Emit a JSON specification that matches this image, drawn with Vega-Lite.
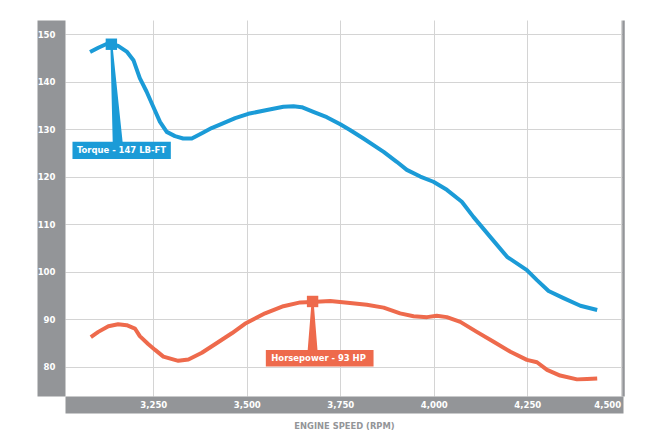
{
  "$schema": "https://vega.github.io/schema/vega-lite/v6.json",
  "width": 558,
  "height": 376,
  "autosize": "none",
  "padding": {"left": 65, "top": 20, "right": 37, "bottom": 42},
  "background": "white",
  "config": {
    "font": "Liberation Sans Narrow, DejaVu Sans Condensed, Roboto",
    "view": {"stroke": null},
    "axis": {
      "gridColor": "#d4d4d4",
      "gridWidth": 1,
      "ticks": false,
      "tickSize": 0,
      "labelFont": "Liberation Sans Narrow, DejaVu Sans Condensed, Roboto",
      "labelFontWeight": "bold",
      "labelFontSize": 9.5,
      "labelColor": "#ffffff",
      "domainColor": "#939598",
      "domainCap": "butt",
      "titleFont": "Liberation Sans Narrow, DejaVu Sans Condensed, Roboto"
    }
  },
  "datasets": {
    "curves": [
      {"series": "Torque", "rpm": 3081, "value": 146.2},
      {"series": "Torque", "rpm": 3103, "value": 147.1},
      {"series": "Torque", "rpm": 3125, "value": 147.9},
      {"series": "Torque", "rpm": 3138, "value": 147.9},
      {"series": "Torque", "rpm": 3156, "value": 147.5},
      {"series": "Torque", "rpm": 3179, "value": 146.3},
      {"series": "Torque", "rpm": 3197, "value": 144.5},
      {"series": "Torque", "rpm": 3214, "value": 140.7},
      {"series": "Torque", "rpm": 3232, "value": 137.9},
      {"series": "Torque", "rpm": 3250, "value": 134.7},
      {"series": "Torque", "rpm": 3268, "value": 131.5},
      {"series": "Torque", "rpm": 3286, "value": 129.4},
      {"series": "Torque", "rpm": 3308, "value": 128.5},
      {"series": "Torque", "rpm": 3330, "value": 128.0},
      {"series": "Torque", "rpm": 3353, "value": 128.0},
      {"series": "Torque", "rpm": 3380, "value": 129.1},
      {"series": "Torque", "rpm": 3406, "value": 130.2},
      {"series": "Torque", "rpm": 3433, "value": 131.1},
      {"series": "Torque", "rpm": 3469, "value": 132.3},
      {"series": "Torque", "rpm": 3504, "value": 133.2},
      {"series": "Torque", "rpm": 3554, "value": 134.0},
      {"series": "Torque", "rpm": 3598, "value": 134.7},
      {"series": "Torque", "rpm": 3625, "value": 134.8},
      {"series": "Torque", "rpm": 3647, "value": 134.6},
      {"series": "Torque", "rpm": 3678, "value": 133.6},
      {"series": "Torque", "rpm": 3714, "value": 132.5},
      {"series": "Torque", "rpm": 3750, "value": 131.0},
      {"series": "Torque", "rpm": 3776, "value": 129.8},
      {"series": "Torque", "rpm": 3812, "value": 128.0},
      {"series": "Torque", "rpm": 3866, "value": 125.2},
      {"series": "Torque", "rpm": 3901, "value": 123.1},
      {"series": "Torque", "rpm": 3928, "value": 121.4},
      {"series": "Torque", "rpm": 3964, "value": 120.0},
      {"series": "Torque", "rpm": 3999, "value": 118.9},
      {"series": "Torque", "rpm": 4035, "value": 117.2},
      {"series": "Torque", "rpm": 4075, "value": 114.7},
      {"series": "Torque", "rpm": 4106, "value": 111.5},
      {"series": "Torque", "rpm": 4151, "value": 107.3},
      {"series": "Torque", "rpm": 4196, "value": 103.1},
      {"series": "Torque", "rpm": 4249, "value": 100.3},
      {"series": "Torque", "rpm": 4276, "value": 98.2},
      {"series": "Torque", "rpm": 4307, "value": 95.9},
      {"series": "Torque", "rpm": 4347, "value": 94.4},
      {"series": "Torque", "rpm": 4392, "value": 92.8},
      {"series": "Torque", "rpm": 4437, "value": 91.9},
      {"series": "Horsepower", "rpm": 3083, "value": 86.2},
      {"series": "Horsepower", "rpm": 3103, "value": 87.3},
      {"series": "Horsepower", "rpm": 3130, "value": 88.5},
      {"series": "Horsepower", "rpm": 3156, "value": 88.9},
      {"series": "Horsepower", "rpm": 3179, "value": 88.7},
      {"series": "Horsepower", "rpm": 3201, "value": 88.0},
      {"series": "Horsepower", "rpm": 3214, "value": 86.4},
      {"series": "Horsepower", "rpm": 3237, "value": 84.7},
      {"series": "Horsepower", "rpm": 3255, "value": 83.5},
      {"series": "Horsepower", "rpm": 3277, "value": 82.1},
      {"series": "Horsepower", "rpm": 3317, "value": 81.2},
      {"series": "Horsepower", "rpm": 3344, "value": 81.5},
      {"series": "Horsepower", "rpm": 3380, "value": 82.9},
      {"series": "Horsepower", "rpm": 3415, "value": 84.7},
      {"series": "Horsepower", "rpm": 3460, "value": 87.0},
      {"series": "Horsepower", "rpm": 3495, "value": 89.0},
      {"series": "Horsepower", "rpm": 3549, "value": 91.2},
      {"series": "Horsepower", "rpm": 3598, "value": 92.7},
      {"series": "Horsepower", "rpm": 3643, "value": 93.5},
      {"series": "Horsepower", "rpm": 3674, "value": 93.6},
      {"series": "Horsepower", "rpm": 3723, "value": 93.8},
      {"series": "Horsepower", "rpm": 3776, "value": 93.4},
      {"series": "Horsepower", "rpm": 3821, "value": 93.0},
      {"series": "Horsepower", "rpm": 3866, "value": 92.4},
      {"series": "Horsepower", "rpm": 3910, "value": 91.2},
      {"series": "Horsepower", "rpm": 3946, "value": 90.6},
      {"series": "Horsepower", "rpm": 3982, "value": 90.4},
      {"series": "Horsepower", "rpm": 4008, "value": 90.7},
      {"series": "Horsepower", "rpm": 4035, "value": 90.4},
      {"series": "Horsepower", "rpm": 4071, "value": 89.4},
      {"series": "Horsepower", "rpm": 4115, "value": 87.3},
      {"series": "Horsepower", "rpm": 4160, "value": 85.2},
      {"series": "Horsepower", "rpm": 4205, "value": 83.1},
      {"series": "Horsepower", "rpm": 4249, "value": 81.4},
      {"series": "Horsepower", "rpm": 4276, "value": 80.9},
      {"series": "Horsepower", "rpm": 4303, "value": 79.3},
      {"series": "Horsepower", "rpm": 4338, "value": 78.1},
      {"series": "Horsepower", "rpm": 4383, "value": 77.3},
      {"series": "Horsepower", "rpm": 4410, "value": 77.4},
      {"series": "Horsepower", "rpm": 4437, "value": 77.5}
    ],
    "peaks": [
      {"series": "Torque", "rpm": 3138, "value": 147.85, "label": "Torque - 147 LB-FT", "rpm_start": 3034, "rpm_end": 3297, "value_top": 127.3, "value_bottom": 123.7, "label_rpm": 3165, "label_value": 125.5},
      {"series": "Horsepower", "rpm": 3676, "value": 93.7, "label": "Horsepower - 93 HP", "rpm_start": 3551, "rpm_end": 3839, "value_top": 83.5, "value_bottom": 80.0, "label_rpm": 3692, "label_value": 81.75}
    ],
    "pointers": [
      {"series": "Torque", "end": "marker", "rpm": 3138, "value": 147.85},
      {"series": "Torque", "end": "box", "rpm": 3155, "value": 127.0},
      {"series": "Horsepower", "end": "marker", "rpm": 3676, "value": 93.7},
      {"series": "Horsepower", "end": "box", "rpm": 3676, "value": 83.2}
    ]
  },
  "resolve": {"axis": {"x": "independent", "y": "independent"}},
  "layer": [
    {
      "data": {"name": "curves"},
      "mark": {"type": "line", "strokeWidth": 4, "strokeJoin": "round", "strokeCap": "butt"},
      "encoding": {
        "x": {
          "field": "rpm", "type": "quantitative", "title": "ENGINE SPEED (RPM)",
          "scale": {"domain": [3014, 4506], "nice": false, "zero": false},
          "axis": {
            "orient": "bottom",
            "values": [3250, 3500, 3750, 4000, 4250, 4500],
            "grid": true,
            "labels": false,
            "domain": true,
            "domainWidth": 17,
            "offset": 8.5,
            "titleFontSize": 9.3,
            "titleFontWeight": "bold",
            "titleColor": "#939598",
            "titleBaseline": "alphabetic",
            "titleY": 24,
            "zindex": 0
          }
        },
        "y": {
          "field": "value", "type": "quantitative", "title": null,
          "scale": {"domain": [73.8, 152.95], "nice": false, "zero": false},
          "axis": {
            "orient": "left",
            "values": [80, 90, 100, 110, 120, 130, 140, 150],
            "grid": true,
            "labels": false,
            "domain": true,
            "domainWidth": 28,
            "offset": 14,
            "zindex": 0
          }
        },
        "color": {
          "field": "series", "type": "nominal", "legend": null,
          "scale": {"domain": ["Torque", "Horsepower"], "range": ["#1B9BD7", "#EE6A4C"]}
        },
        "detail": {"field": "series", "type": "nominal"}
      }
    },
    {
      "data": {"name": "pointers"},
      "mark": {"type": "trail"},
      "encoding": {
        "x": {"field": "rpm", "type": "quantitative", "axis": null},
        "y": {"field": "value", "type": "quantitative", "axis": null},
        "color": {"field": "series", "type": "nominal", "legend": null},
        "size": {"field": "end", "type": "ordinal", "legend": null, "scale": {"domain": ["marker", "box"], "range": [2, 10]}},
        "order": {"field": "value", "sort": "descending"}
      }
    },
    {
      "data": {"name": "peaks"},
      "mark": {"type": "rect"},
      "encoding": {
        "x": {"field": "rpm_start", "type": "quantitative", "axis": null},
        "x2": {"field": "rpm_end"},
        "y": {"field": "value_top", "type": "quantitative", "axis": null},
        "y2": {"field": "value_bottom"},
        "color": {"field": "series", "type": "nominal", "legend": null}
      }
    },
    {
      "data": {"name": "peaks"},
      "mark": {"type": "text", "color": "#ffffff", "fontWeight": "bold", "fontSize": 9.4, "baseline": "middle", "align": "center", "font": "Liberation Sans Narrow, DejaVu Sans Condensed, Roboto"},
      "encoding": {
        "x": {
          "field": "label_rpm", "type": "quantitative",
          "axis": {
            "orient": "bottom",
            "values": [3250, 3500, 3750, 4000, 4250, 4500],
            "format": ",.0f",
            "grid": false,
            "domain": false,
            "labels": true,
            "offset": 8.5,
            "labelPadding": 0,
            "labelBaseline": "middle",
            "labelAlign": {"condition": {"test": "datum.value === 4500", "value": "right"}, "value": "center"},
            "title": null,
            "zindex": 1
          }
        },
        "y": {
          "field": "label_value", "type": "quantitative",
          "axis": {
            "orient": "left",
            "values": [80, 90, 100, 110, 120, 130, 140, 150],
            "grid": false,
            "domain": false,
            "labels": true,
            "offset": 14,
            "labelPadding": -4,
            "title": null,
            "zindex": 1
          }
        },
        "text": {"field": "label", "type": "nominal"}
      }
    },
    {
      "data": {"name": "peaks"},
      "mark": {"type": "point", "shape": "square", "filled": true, "opacity": 1, "size": 130},
      "encoding": {
        "x": {"field": "rpm", "type": "quantitative", "axis": null},
        "y": {
          "field": "value", "type": "quantitative",
          "axis": {"orient": "right", "title": null, "labels": false, "grid": false, "domain": true, "domainWidth": 2.5, "offset": 0, "values": [80, 150]}
        },
        "color": {"field": "series", "type": "nominal", "legend": null}
      }
    }
  ]
}
